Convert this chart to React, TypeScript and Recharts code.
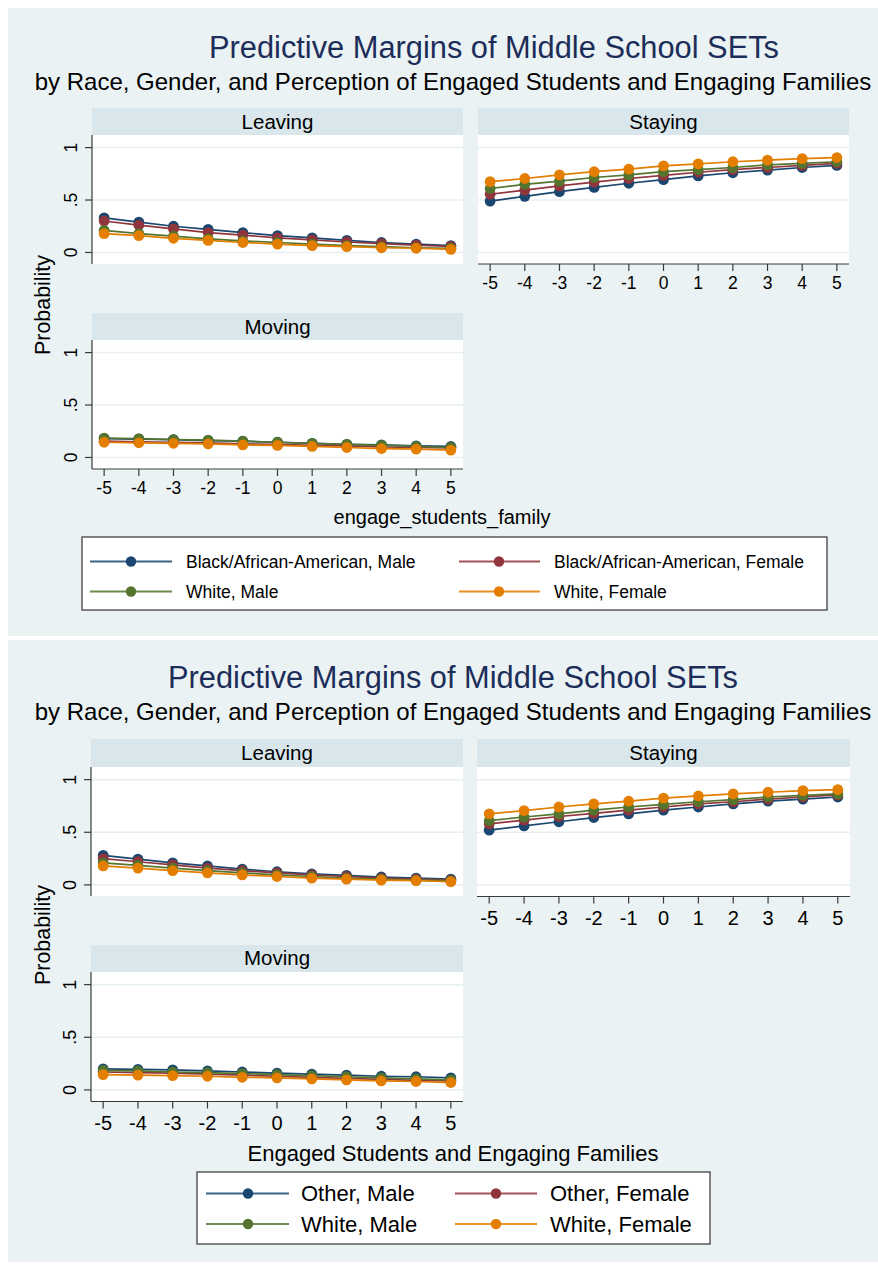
import React from 'react';
import { LineChart, Line, XAxis, YAxis, CartesianGrid } from 'recharts';

// ---------- DATA ----------
const X_VALUES = [-5, -4, -3, -2, -1, 0, 1, 2, 3, 4, 5];
const Y_TICKS = [0, 0.5, 1];
const Y_TICK_LABELS = ['0', '.5', '1'];

const TOP_LEGEND = ['Black/African-American, Male', 'Black/African-American, Female', 'White, Male', 'White, Female'];
const BOT_LEGEND = ['Other, Male', 'Other, Female', 'White, Male', 'White, Female'];
const PANEL_NAMES = ['Leaving', 'Staying', 'Moving'];

// Top chart: Black/African-American vs White
const TOP_LEAVE_BM = [0.33, 0.29, 0.25, 0.22, 0.19, 0.16, 0.14, 0.115, 0.095, 0.08, 0.065];
const TOP_LEAVE_BF = [0.3, 0.26, 0.225, 0.19, 0.165, 0.14, 0.12, 0.1, 0.085, 0.07, 0.058];
const TOP_LEAVE_WM = [0.21, 0.18, 0.155, 0.13, 0.11, 0.095, 0.08, 0.065, 0.055, 0.045, 0.04];
const TOP_LEAVE_WF = [0.18, 0.16, 0.135, 0.115, 0.095, 0.08, 0.065, 0.055, 0.045, 0.04, 0.03];

const TOP_STAY_BM = [0.49, 0.535, 0.58, 0.62, 0.66, 0.695, 0.73, 0.76, 0.785, 0.81, 0.83];
const TOP_STAY_BF = [0.555, 0.595, 0.635, 0.67, 0.705, 0.735, 0.765, 0.79, 0.81, 0.83, 0.85];
const TOP_STAY_WM = [0.61, 0.65, 0.68, 0.715, 0.74, 0.77, 0.79, 0.81, 0.835, 0.85, 0.865];
const TOP_STAY_WF = [0.675, 0.705, 0.74, 0.77, 0.795, 0.825, 0.845, 0.865, 0.88, 0.895, 0.905];

const TOP_MOVE_BM = [0.18, 0.175, 0.17, 0.16, 0.155, 0.145, 0.135, 0.125, 0.12, 0.11, 0.105];
const TOP_MOVE_BF = [0.155, 0.15, 0.145, 0.14, 0.13, 0.125, 0.115, 0.11, 0.1, 0.095, 0.09];
const TOP_MOVE_WM = [0.185, 0.18, 0.17, 0.165, 0.155, 0.145, 0.135, 0.125, 0.115, 0.105, 0.095];
const TOP_MOVE_WF = [0.145, 0.14, 0.135, 0.13, 0.12, 0.115, 0.105, 0.095, 0.085, 0.08, 0.07];

// Bottom chart: Other vs White
const BOT_LEAVE_OM = [0.28, 0.245, 0.21, 0.18, 0.15, 0.125, 0.105, 0.09, 0.075, 0.065, 0.055];
const BOT_LEAVE_OF = [0.25, 0.22, 0.19, 0.16, 0.135, 0.115, 0.095, 0.08, 0.065, 0.055, 0.045];
const BOT_LEAVE_WM = [0.21, 0.185, 0.16, 0.135, 0.115, 0.095, 0.08, 0.065, 0.055, 0.045, 0.04];
const BOT_LEAVE_WF = [0.18, 0.16, 0.135, 0.115, 0.095, 0.08, 0.065, 0.055, 0.045, 0.04, 0.03];

const BOT_STAY_OM = [0.52, 0.56, 0.6, 0.64, 0.675, 0.71, 0.74, 0.77, 0.795, 0.815, 0.835];
const BOT_STAY_OF = [0.58, 0.615, 0.65, 0.68, 0.71, 0.74, 0.77, 0.79, 0.815, 0.835, 0.855];
const BOT_STAY_WM = [0.61, 0.645, 0.675, 0.71, 0.74, 0.765, 0.79, 0.81, 0.835, 0.85, 0.865];
const BOT_STAY_WF = [0.675, 0.705, 0.74, 0.77, 0.795, 0.825, 0.845, 0.865, 0.88, 0.895, 0.905];

const BOT_MOVE_OM = [0.2, 0.195, 0.19, 0.18, 0.17, 0.16, 0.15, 0.14, 0.13, 0.125, 0.115];
const BOT_MOVE_OF = [0.17, 0.165, 0.16, 0.15, 0.14, 0.13, 0.12, 0.11, 0.1, 0.09, 0.085];
const BOT_MOVE_WM = [0.185, 0.18, 0.17, 0.165, 0.155, 0.145, 0.135, 0.125, 0.115, 0.105, 0.095];
const BOT_MOVE_WF = [0.145, 0.14, 0.135, 0.13, 0.12, 0.115, 0.105, 0.095, 0.085, 0.08, 0.07];

// ---------- STYLE ----------
const FONT = '"Liberation Sans", Arial, Helvetica, sans-serif';
const COLORS = ['#1a476f', '#90353b', '#55752f', '#e37e00'];
const BG = '#eaf2f3';
const STRIP = '#d9e6eb';
const GRID = '#e6eff1';
const AXIS = '#3a3a3a';
const TITLE_COLOR = '#1c2d5a';

const buildRows = (arrs: number[][]) =>
  X_VALUES.map((x, i) => ({ x, s0: arrs[0][i], s1: arrs[1][i], s2: arrs[2][i], s3: arrs[3][i] }));

const makeYTick = (fontSize: number) => (props: any) => {
  const { x, y, payload } = props;
  const idx = Y_TICKS.indexOf(payload.value);
  const label = idx >= 0 ? Y_TICK_LABELS[idx] : String(payload.value);
  return (
    <text
      x={x}
      y={y}
      transform={`rotate(-90 ${x} ${y})`}
      textAnchor="middle"
      fontSize={fontSize}
      fontFamily={FONT}
      fill="#000"
    >
      {label}
    </text>
  );
};

type PanelProps = {
  rows: any[];
  names: string[];
  plotLeft: number;
  plotTop: number;
  plotW: number;
  plotH: number;
  showX: boolean;
  showY: boolean;
  xFont: number;
  yFont: number;
  xTickMargin: number;
};

function Panel({ rows, names, plotLeft, plotTop, plotW, plotH, showX, showY, xFont, yFont, xTickMargin }: PanelProps) {
  const YW = 60;
  const XH = 40;
  const w = plotW + (showY ? YW : 0);
  const h = plotH + (showX ? XH : 0);
  return (
    <div style={{ position: 'absolute', left: plotLeft - (showY ? YW : 0), top: plotTop }}>
      <LineChart width={w} height={h} data={rows} margin={{ top: 0, right: 0, bottom: 0, left: 0 }}>
        <CartesianGrid
          vertical={false}
          horizontalValues={Y_TICKS}
          stroke={GRID}
          strokeWidth={1.5}
          fill="#ffffff"
          fillOpacity={1}
        />
        <XAxis
          type="number"
          dataKey="x"
          domain={[-5.35, 5.35]}
          ticks={X_VALUES}
          interval={0}
          allowDataOverflow
          hide={!showX}
          height={XH}
          axisLine={{ stroke: AXIS, strokeWidth: 1.2 }}
          tickLine={{ stroke: AXIS, strokeWidth: 1.2 }}
          tickSize={7}
          tickMargin={xTickMargin}
          tick={{ fontSize: xFont, fill: '#000', fontFamily: FONT }}
        />
        <YAxis
          type="number"
          domain={[-0.11, 1.12]}
          ticks={Y_TICKS}
          interval={0}
          allowDataOverflow
          hide={!showY}
          width={YW}
          axisLine={{ stroke: AXIS, strokeWidth: 1.2 }}
          tickLine={{ stroke: AXIS, strokeWidth: 1.2 }}
          tickSize={7}
          tickMargin={8}
          tick={makeYTick(yFont)}
        />
        {['s0', 's1', 's2', 's3'].map((k, i) => (
          <Line
            key={k}
            dataKey={k}
            name={names[i]}
            type="linear"
            stroke={COLORS[i]}
            strokeWidth={1.7}
            dot={{ r: 5.4, fill: COLORS[i], stroke: COLORS[i], strokeWidth: 0 }}
            activeDot={false}
            isAnimationActive={false}
          />
        ))}
      </LineChart>
    </div>
  );
}

type LegendItem = { x1: number; x2: number; mx: number; tx: number; y: number };

function LegendBox({ box, items, labels, fontSize }: { box: number[]; items: LegendItem[]; labels: string[]; fontSize: number }) {
  return (
    <g>
      <rect x={box[0]} y={box[1]} width={box[2]} height={box[3]} fill="#fff" stroke="#333" strokeWidth={1.2} />
      {items.map((it, i) => (
        <g key={i}>
          <line x1={it.x1} x2={it.x2} y1={it.y} y2={it.y} stroke={COLORS[i]} strokeWidth={2} strokeOpacity={0.85} />
          <circle cx={it.mx} cy={it.y} r={5.2} fill={COLORS[i]} />
          <text x={it.tx} y={it.y} dominantBaseline="central" fontSize={fontSize} fontFamily={FONT} fill="#000">
            {labels[i]}
          </text>
        </g>
      ))}
    </g>
  );
}

function Strip({ x, y, w, h, label, baseline }: { x: number; y: number; w: number; h: number; label: string; baseline: number }) {
  return (
    <g>
      <rect x={x} y={y} width={w} height={h} fill={STRIP} />
      <text x={x + w / 2} y={baseline} textAnchor="middle" fontSize={20.5} fontFamily={FONT} fill="#000">
        {label}
      </text>
    </g>
  );
}

export default function App() {
  const topLeave = buildRows([TOP_LEAVE_BM, TOP_LEAVE_BF, TOP_LEAVE_WM, TOP_LEAVE_WF]);
  const topStay = buildRows([TOP_STAY_BM, TOP_STAY_BF, TOP_STAY_WM, TOP_STAY_WF]);
  const topMove = buildRows([TOP_MOVE_BM, TOP_MOVE_BF, TOP_MOVE_WM, TOP_MOVE_WF]);
  const botLeave = buildRows([BOT_LEAVE_OM, BOT_LEAVE_OF, BOT_LEAVE_WM, BOT_LEAVE_WF]);
  const botStay = buildRows([BOT_STAY_OM, BOT_STAY_OF, BOT_STAY_WM, BOT_STAY_WF]);
  const botMove = buildRows([BOT_MOVE_OM, BOT_MOVE_OF, BOT_MOVE_WM, BOT_MOVE_WF]);

  const topItems: LegendItem[] = [
    { x1: 90, x2: 172, mx: 131, tx: 186, y: 561.5 },
    { x1: 459, x2: 540, mx: 499, tx: 554, y: 561.5 },
    { x1: 90, x2: 172, mx: 131, tx: 186, y: 591.5 },
    { x1: 459, x2: 540, mx: 499, tx: 554, y: 591.5 },
  ];
  const botItems: LegendItem[] = [
    { x1: 206, x2: 289, mx: 248, tx: 301, y: 1193.5 },
    { x1: 455, x2: 537, mx: 496, tx: 550, y: 1193.5 },
    { x1: 206, x2: 289, mx: 248, tx: 301, y: 1224 },
    { x1: 455, x2: 537, mx: 496, tx: 550, y: 1224 },
  ];

  return (
    <div style={{ position: 'absolute', left: 0, top: 0, width: 878, height: 1268, background: '#fff', overflow: 'hidden' }}>
      <svg width={878} height={1268} style={{ position: 'absolute', left: 0, top: 0 }}>
        <rect x={0} y={0} width={878} height={1268} fill="#fff" />
        {/* ---- top chart ---- */}
        <rect x={8} y={8} width={870} height={628} fill={BG} />
        <text x={494} y={58} textAnchor="middle" fontSize={30.8} fontFamily={FONT} fill={TITLE_COLOR}>
          Predictive Margins of Middle School SETs
        </text>
        <text x={453} y={90} textAnchor="middle" fontSize={24} fontFamily={FONT} fill="#000">
          by Race, Gender, and Perception of Engaged Students and Engaging Families
        </text>
        <Strip x={92} y={108} w={371} h={27} label={PANEL_NAMES[0]} baseline={128.5} />
        <Strip x={478} y={108} w={371} h={27} label={PANEL_NAMES[1]} baseline={128.5} />
        <Strip x={92} y={313} w={371} h={27} label={PANEL_NAMES[2]} baseline={333.5} />
        <text
          x={50}
          y={305}
          transform="rotate(-90 50 305)"
          textAnchor="middle"
          fontSize={21.4}
          fontFamily={FONT}
          fill="#000"
        >
          Probability
        </text>
        <text x={442} y={517} textAnchor="middle" dominantBaseline="central" fontSize={20} fontFamily={FONT} fill="#000">
          engage_students_family
        </text>
        <LegendBox box={[82, 537, 745, 73]} items={topItems} labels={TOP_LEGEND} fontSize={17.5} />

        {/* ---- bottom chart ---- */}
        <rect x={8} y={640} width={870} height={622} fill={BG} />
        <text x={453} y={688} textAnchor="middle" fontSize={30.8} fontFamily={FONT} fill={TITLE_COLOR}>
          Predictive Margins of Middle School SETs
        </text>
        <text x={453} y={720} textAnchor="middle" fontSize={24} fontFamily={FONT} fill="#000">
          by Race, Gender, and Perception of Engaged Students and Engaging Families
        </text>
        <Strip x={91} y={739} w={372} h={28} label={PANEL_NAMES[0]} baseline={760} />
        <Strip x={477} y={739} w={373} h={28} label={PANEL_NAMES[1]} baseline={760} />
        <Strip x={91} y={945} w={372} h={27} label={PANEL_NAMES[2]} baseline={965} />
        <text
          x={50}
          y={935}
          transform="rotate(-90 50 935)"
          textAnchor="middle"
          fontSize={21.4}
          fontFamily={FONT}
          fill="#000"
        >
          Probability
        </text>
        <text x={453} y={1153} textAnchor="middle" dominantBaseline="central" fontSize={22} fontFamily={FONT} fill="#000">
          Engaged Students and Engaging Families
        </text>
        <LegendBox box={[197, 1172, 513, 72]} items={botItems} labels={BOT_LEGEND} fontSize={22} />
      </svg>

      {/* top chart panels */}
      <Panel rows={topLeave} names={TOP_LEGEND} plotLeft={92} plotTop={135} plotW={371} plotH={129} showX={false} showY={true} xFont={17.5} yFont={17.5} xTickMargin={6} />
      <Panel rows={topStay} names={TOP_LEGEND} plotLeft={478} plotTop={135} plotW={371} plotH={129} showX={true} showY={false} xFont={17.5} yFont={17.5} xTickMargin={6} />
      <Panel rows={topMove} names={TOP_LEGEND} plotLeft={92} plotTop={340} plotW={371} plotH={129} showX={true} showY={true} xFont={17.5} yFont={17.5} xTickMargin={6} />

      {/* bottom chart panels */}
      <Panel rows={botLeave} names={BOT_LEGEND} plotLeft={91} plotTop={766.5} plotW={372} plotH={129.5} showX={false} showY={true} xFont={20} yFont={18} xTickMargin={7} />
      <Panel rows={botStay} names={BOT_LEGEND} plotLeft={477} plotTop={766.5} plotW={373} plotH={129.5} showX={true} showY={false} xFont={20} yFont={18} xTickMargin={7} />
      <Panel rows={botMove} names={BOT_LEGEND} plotLeft={91} plotTop={972} plotW={372} plotH={129.5} showX={true} showY={true} xFont={20} yFont={18} xTickMargin={7} />
    </div>
  );
}
